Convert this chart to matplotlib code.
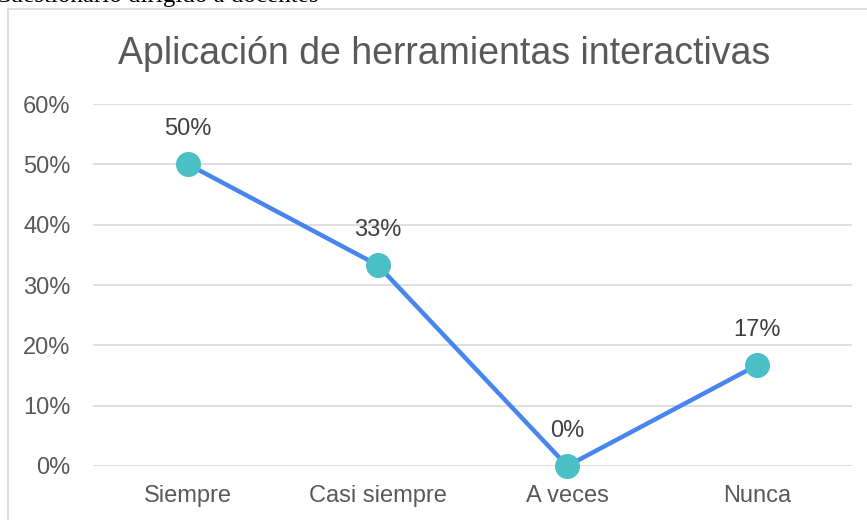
import matplotlib
matplotlib.use("Agg")
import matplotlib.pyplot as plt
from matplotlib.patches import Rectangle

categories = ["Siempre", "Casi siempre", "A veces", "Nunca"]
values = [0.50, 0.333, 0.0, 0.167]
labels = ["50%", "33%", "0%", "17%"]
yticks = [0, 0.1, 0.2, 0.3, 0.4, 0.5, 0.6]
ytick_labels = ["0%", "10%", "20%", "30%", "40%", "50%", "60%"]

plt.rcParams["font.family"] = ["Liberation Sans", "DejaVu Sans"]
TXT = "#595959"
GRID = "#d9d9d9"

fig = plt.figure(figsize=(8.67, 5.2), dpi=100)
# chart frame (partly off the page, as in the source document)
fig.patches.append(Rectangle((8/867, -0.1), 1.2, 1.1 - 9/520, transform=fig.transFigure,
                             fill=False, edgecolor=GRID, lw=1.2, zorder=0))
# cut-off caption line above the chart
fig.text(-6/867, 1 - 2/520, "Cuestionario dirigido a docentes", family="Liberation Serif",
         fontsize=18, color="black", va="baseline", ha="left")

ax = fig.add_axes([93.3/867, 54/520, (851.7-93.3)/867, (466-104)/520])
x = list(range(len(categories)))
ax.plot(x, values, color="#4885ee", lw=3.2, zorder=3, solid_capstyle="round")
ax.plot(x, values, "o", ms=17, color="#4bbfc6", zorder=4)
for xi, v, lab in zip(x, values, labels):
    ax.annotate(lab, (xi, v), xytext=(0, 25.5), textcoords="offset points", ha="center",
                va="center", fontsize=17, color="#404040")

ax.set_xlim(-0.5, 3.5)
ax.set_ylim(0, 0.6)
ax.set_yticks(yticks)
ax.set_yticklabels(ytick_labels)
ax.set_xticks(x)
ax.set_xticklabels(categories)
ax.tick_params(length=0, labelsize=17, labelcolor=TXT)
ax.tick_params(axis="y", pad=16.5)
ax.tick_params(axis="x", pad=14)
ax.grid(axis="y", color=GRID, lw=1.2)
ax.set_axisbelow(True)
for s in ax.spines.values():
    s.set_visible(False)
for ln in ax.lines:
    ln.set_clip_on(False)

fig.text(444/867, 1 - 53.5/520, "Aplicación de herramientas interactivas", ha="center", va="center",
         fontsize=27, color=TXT)

fig.savefig("out.png", dpi=100)
